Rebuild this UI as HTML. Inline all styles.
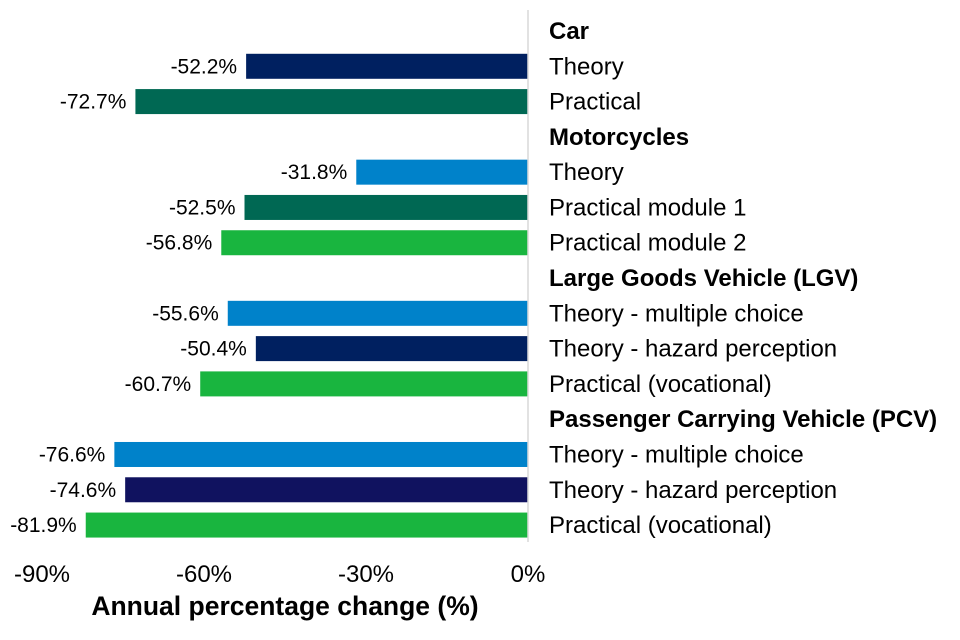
<!DOCTYPE html>
<html><head><meta charset="utf-8"><style>
html,body{margin:0;padding:0;background:#fff;}
svg{display:block;font-family:"Liberation Sans",Arial,sans-serif;}
</style></head><body>
<svg id="chart" width="960" height="640" viewBox="0 0 960 640" xmlns="http://www.w3.org/2000/svg"></svg>
<script>
const rowLabels = ["Car","Theory","Practical","Motorcycles","Theory","Practical module 1","Practical module 2","Large Goods Vehicle (LGV)","Theory - multiple choice","Theory - hazard perception","Practical (vocational)","Passenger Carrying Vehicle (PCV)","Theory - multiple choice","Theory - hazard perception","Practical (vocational)"];
const isHeader = [1,0,0,1,0,0,0,1,0,0,0,1,0,0,0];
const values = [null,-52.2,-72.7,null,-31.8,-52.5,-56.8,null,-55.6,-50.4,-60.7,null,-76.6,-74.6,-81.9];
const colorKeys = [null,"navy","teal",null,"blue","teal","green",null,"blue","navy","green",null,"blue","indigo","green"];
const ticks = [-90,-60,-30,0];

const palette = {navy:"#002060",teal:"#006853",blue:"#0082ca",green:"#19b53f",indigo:"#10125f"};
const NS="http://www.w3.org/2000/svg";
const svg=document.getElementById('chart');
const x0=528, pxPer=5.4;
const xs=v=>x0+v*pxPer;
const ys=i=>31+i*35.29;
function mk(t,a,p){const e=document.createElementNS(NS,t);for(const k in a)e.setAttribute(k,a[k]);(p||svg).appendChild(e);return e;}

values.forEach((v,i)=>{
  const y=ys(i);
  if(v!==null){
    const r=mk('rect',{x:xs(v),y:y-12.5,width:x0-xs(v),height:25,fill:palette[colorKeys[i]]});
    
    
    const t=mk('text',{x:xs(v)-9,y:y+7,'text-anchor':'end','font-size':21,fill:'#000'});
    t.textContent=v.toFixed(1)+'%';
    
    
  }
  const l=mk('text',{x:549,y:y+8,'font-size':24,'font-weight':isHeader[i]?'bold':'normal',fill:'#000'});
  l.textContent=rowLabels[i];
  
  
});

const ax=mk('line',{x1:x0,y1:10,x2:x0,y2:542,stroke:'#d9d9d9','stroke-width':1.5});



ticks.forEach(t=>{
  const e=mk('text',{x:xs(t),y:582,'text-anchor':'middle','font-size':24,fill:'#000'});
  e.textContent=t+'%';
  
  
});
const title=mk('text',{x:285,y:615,'text-anchor':'middle','font-size':26.5,'font-weight':'bold',fill:'#000'});
title.textContent='Annual percentage change (%)';


</script>
</body></html>
